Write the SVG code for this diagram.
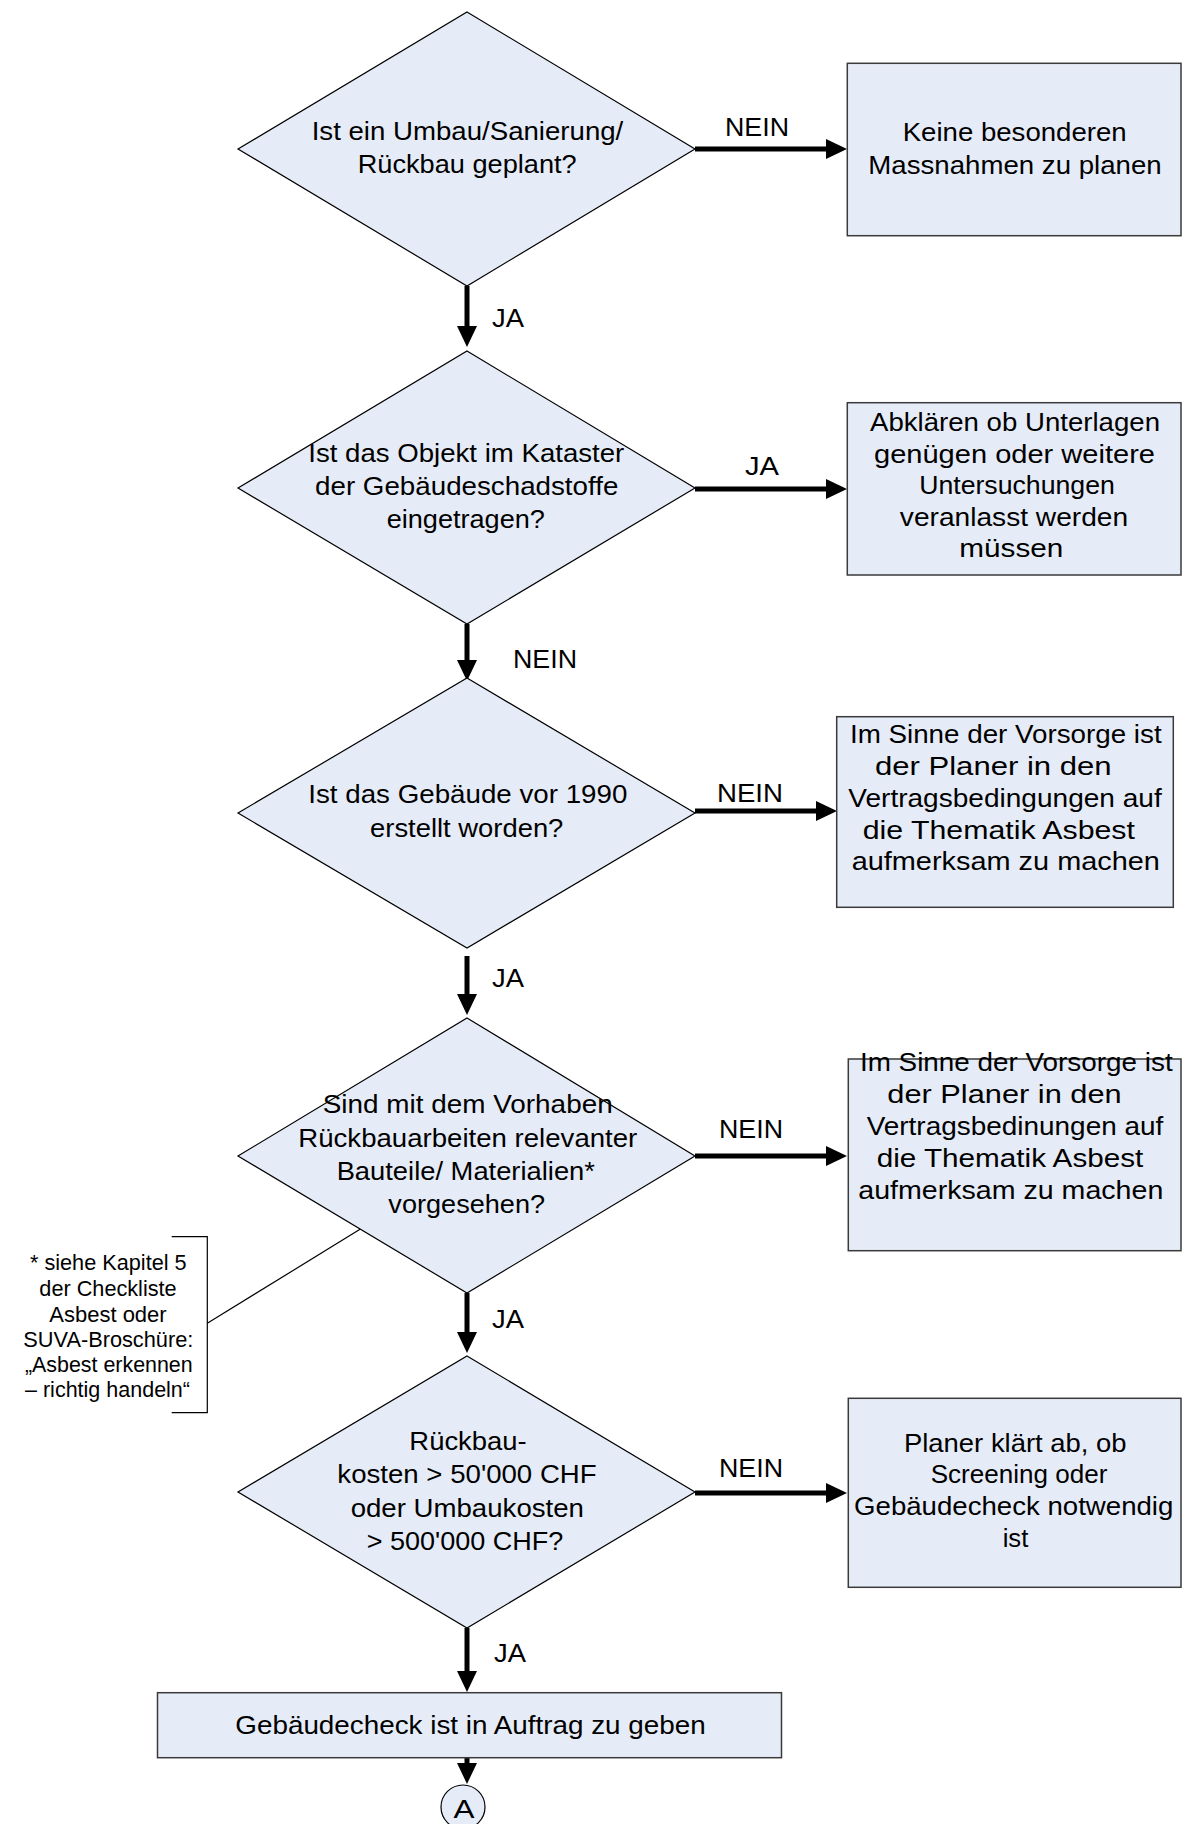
<svg xmlns="http://www.w3.org/2000/svg" width="1182" height="1824" viewBox="0 0 1182 1824">
<style>
text{font-family:"Liberation Sans",Arial,sans-serif;fill:#000;text-anchor:middle;}
.t{font-size:25.5px;}
.n{font-size:22px;}
.d{fill:#E6ECF7;stroke:#000;stroke-width:1.2;}
.b{fill:#E6ECF7;stroke:#3a3a3a;stroke-width:1.5;}
.c{stroke:#000;stroke-width:5;fill:none;marker-end:url(#ah);}
.thin{stroke:#000;stroke-width:1.2;fill:none;}
</style>
<defs>
<marker id="ah" markerUnits="userSpaceOnUse" markerWidth="21" markerHeight="20" viewBox="0 0 21 20" refX="11" refY="10" orient="auto">
<path d="M0,0 L21,10 L0,20 z" fill="#000"/>
</marker>
</defs>
<rect width="1182" height="1824" fill="#fff"/>

<g id="connectors">
<line class="c" x1="467" y1="286" x2="467" y2="337"/>
<line class="c" x1="467" y1="624" x2="467" y2="671"/>
<line class="c" x1="467" y1="956" x2="467" y2="1005"/>
<line class="c" x1="467" y1="1293" x2="467" y2="1343"/>
<line class="c" x1="467" y1="1628" x2="467" y2="1682"/>
<line class="c" x1="467" y1="1757" x2="467" y2="1774"/>
<line class="c" x1="695" y1="149" x2="837" y2="149"/>
<line class="c" x1="695" y1="489" x2="837" y2="489"/>
<line class="c" x1="695" y1="811" x2="827" y2="811"/>
<line class="c" x1="695" y1="1156" x2="837" y2="1156"/>
<line class="c" x1="695" y1="1493" x2="837" y2="1493"/>
<line class="thin" x1="207.3" y1="1323.3" x2="360" y2="1229.3"/>
</g>

<g id="labels" class="t">
<text x="757" y="136" textLength="64" lengthAdjust="spacingAndGlyphs">NEIN</text>
<text x="508" y="327" textLength="32" lengthAdjust="spacingAndGlyphs">JA</text>
<text x="762" y="475" textLength="34" lengthAdjust="spacingAndGlyphs">JA</text>
<text x="545" y="668" textLength="64" lengthAdjust="spacingAndGlyphs">NEIN</text>
<text x="750" y="802" textLength="66" lengthAdjust="spacingAndGlyphs">NEIN</text>
<text x="508" y="987" textLength="32" lengthAdjust="spacingAndGlyphs">JA</text>
<text x="751" y="1138" textLength="64" lengthAdjust="spacingAndGlyphs">NEIN</text>
<text x="508" y="1328" textLength="32" lengthAdjust="spacingAndGlyphs">JA</text>
<text x="751" y="1477" textLength="64" lengthAdjust="spacingAndGlyphs">NEIN</text>
<text x="510" y="1662" textLength="32" lengthAdjust="spacingAndGlyphs">JA</text>
</g>

<g id="d1" class="t">
<polygon class="d" points="467,12 695,149 467,286 238,149"/>
<text x="467.5" y="140" textLength="311.6" lengthAdjust="spacingAndGlyphs">Ist ein Umbau/Sanierung/</text>
<text x="467.2" y="173.3" textLength="219" lengthAdjust="spacingAndGlyphs">Rückbau geplant?</text>
</g>

<g id="b1" class="t">
<rect class="b" x="847.3" y="63.3" width="333.7" height="172.4"/>
<text x="1014.7" y="140.7" textLength="224" lengthAdjust="spacingAndGlyphs">Keine besonderen</text>
<text x="1015" y="174" textLength="293.3" lengthAdjust="spacingAndGlyphs">Massnahmen zu planen</text>
</g>

<g id="d2" class="t">
<polygon class="d" points="467,351 695,488 467,624 238,488"/>
<text x="466.3" y="461.7" textLength="316" lengthAdjust="spacingAndGlyphs">Ist das Objekt im Kataster</text>
<text x="466.7" y="495" textLength="303.3" lengthAdjust="spacingAndGlyphs">der Gebäudeschadstoffe</text>
<text x="465.8" y="528.3" textLength="158.3" lengthAdjust="spacingAndGlyphs">eingetragen?</text>
</g>

<g id="b2" class="t">
<rect class="b" x="847.3" y="402.7" width="333.7" height="172.3"/>
<text x="1015" y="430.7" textLength="290" lengthAdjust="spacingAndGlyphs">Abklären ob Unterlagen</text>
<text x="1014.5" y="462.7" textLength="281" lengthAdjust="spacingAndGlyphs">genügen oder weitere</text>
<text x="1017" y="494.3" textLength="195.7" lengthAdjust="spacingAndGlyphs">Untersuchungen</text>
<text x="1014" y="526" textLength="228.3" lengthAdjust="spacingAndGlyphs">veranlasst werden</text>
<text x="1011.3" y="556.7" textLength="104" lengthAdjust="spacingAndGlyphs">müssen</text>
</g>

<g id="d3" class="t">
<polygon class="d" points="467,678 695,813 467,948 238,813"/>
<text x="467.8" y="803.3" textLength="319" lengthAdjust="spacingAndGlyphs">Ist das Gebäude vor 1990</text>
<text x="466.7" y="836.7" textLength="193.3" lengthAdjust="spacingAndGlyphs">erstellt worden?</text>
</g>

<g id="b3" class="t">
<rect class="b" x="836.7" y="716.7" width="336.6" height="190.6"/>
<text x="1005.8" y="743.3" textLength="311.7" lengthAdjust="spacingAndGlyphs">Im Sinne der Vorsorge ist</text>
<text x="993.3" y="775" textLength="236.7" lengthAdjust="spacingAndGlyphs">der Planer in den</text>
<text x="1005" y="807.3" textLength="313.4" lengthAdjust="spacingAndGlyphs">Vertragsbedingungen auf</text>
<text x="998.8" y="839.3" textLength="272.3" lengthAdjust="spacingAndGlyphs">die Thematik Asbest</text>
<text x="1005.8" y="870" textLength="308.3" lengthAdjust="spacingAndGlyphs">aufmerksam zu machen</text>
</g>

<g id="d4" class="t">
<polygon class="d" points="467,1018 695,1156 467,1293 238,1156"/>
<text x="467.7" y="1113.3" textLength="290" lengthAdjust="spacingAndGlyphs">Sind mit dem Vorhaben</text>
<text x="467.8" y="1146.7" textLength="339" lengthAdjust="spacingAndGlyphs">Rückbauarbeiten relevanter</text>
<text x="465.8" y="1180" textLength="258.3" lengthAdjust="spacingAndGlyphs">Bauteile/ Materialien*</text>
<text x="466.7" y="1212.7" textLength="156.7" lengthAdjust="spacingAndGlyphs">vorgesehen?</text>
</g>

<g id="b4" class="t">
<rect class="b" x="848.3" y="1059" width="332.7" height="191.7"/>
<text x="1016.3" y="1070.7" textLength="312.7" lengthAdjust="spacingAndGlyphs">Im Sinne der Vorsorge ist</text>
<text x="1004.5" y="1103.3" textLength="234.3" lengthAdjust="spacingAndGlyphs">der Planer in den</text>
<text x="1015" y="1135" textLength="296.7" lengthAdjust="spacingAndGlyphs">Vertragsbedinungen auf</text>
<text x="1010" y="1167.3" textLength="266.7" lengthAdjust="spacingAndGlyphs">die Thematik Asbest</text>
<text x="1010.8" y="1199" textLength="305" lengthAdjust="spacingAndGlyphs">aufmerksam zu machen</text>
</g>

<g id="note" class="n">
<path class="thin" d="M171.7,1236.7 H207.3 V1412.7 H171.7"/>
<text x="108.3" y="1270" textLength="156.7" lengthAdjust="spacingAndGlyphs">* siehe Kapitel 5</text>
<text x="108" y="1296" textLength="137.3" lengthAdjust="spacingAndGlyphs">der Checkliste</text>
<text x="108" y="1321.7" textLength="117.3" lengthAdjust="spacingAndGlyphs">Asbest oder</text>
<text x="108.3" y="1346.7" textLength="170" lengthAdjust="spacingAndGlyphs">SUVA-Broschüre:</text>
<text x="108.8" y="1371.7" textLength="167.7" lengthAdjust="spacingAndGlyphs">„Asbest erkennen</text>
<text x="107.5" y="1396.7" textLength="165" lengthAdjust="spacingAndGlyphs">– richtig handeln“</text>
</g>

<g id="d5" class="t">
<polygon class="d" points="467,1356 695,1492 467,1628 238,1492"/>
<text x="468" y="1450" textLength="117.3" lengthAdjust="spacingAndGlyphs">Rückbau-</text>
<text x="467" y="1483.3" textLength="259.3" lengthAdjust="spacingAndGlyphs">kosten &gt; 50'000 CHF</text>
<text x="467.3" y="1516.7" textLength="233.3" lengthAdjust="spacingAndGlyphs">oder Umbaukosten</text>
<text x="465" y="1550" textLength="196.7" lengthAdjust="spacingAndGlyphs">&gt; 500'000 CHF?</text>
</g>

<g id="b5" class="t">
<rect class="b" x="848.3" y="1398.3" width="332.7" height="189"/>
<text x="1015.3" y="1451.7" textLength="222.7" lengthAdjust="spacingAndGlyphs">Planer klärt ab, ob</text>
<text x="1019" y="1483.3" textLength="176.7" lengthAdjust="spacingAndGlyphs">Screening oder</text>
<text x="1013.7" y="1515" textLength="319.3" lengthAdjust="spacingAndGlyphs">Gebäudecheck notwendig</text>
<text x="1015.5" y="1546.7" textLength="25.7" lengthAdjust="spacingAndGlyphs">ist</text>
</g>

<g id="b6" class="t">
<rect class="b" x="157.5" y="1692.7" width="624" height="65"/>
<text x="470.5" y="1734" textLength="470.4" lengthAdjust="spacingAndGlyphs">Gebäudecheck ist in Auftrag zu geben</text>
</g>

<g id="connA" class="t">
<ellipse cx="463" cy="1807" rx="22" ry="22" fill="#E6ECF7" stroke="#000" stroke-width="1.2"/>
<text x="464" y="1818" textLength="21" lengthAdjust="spacingAndGlyphs">A</text>
</g>
</svg>
